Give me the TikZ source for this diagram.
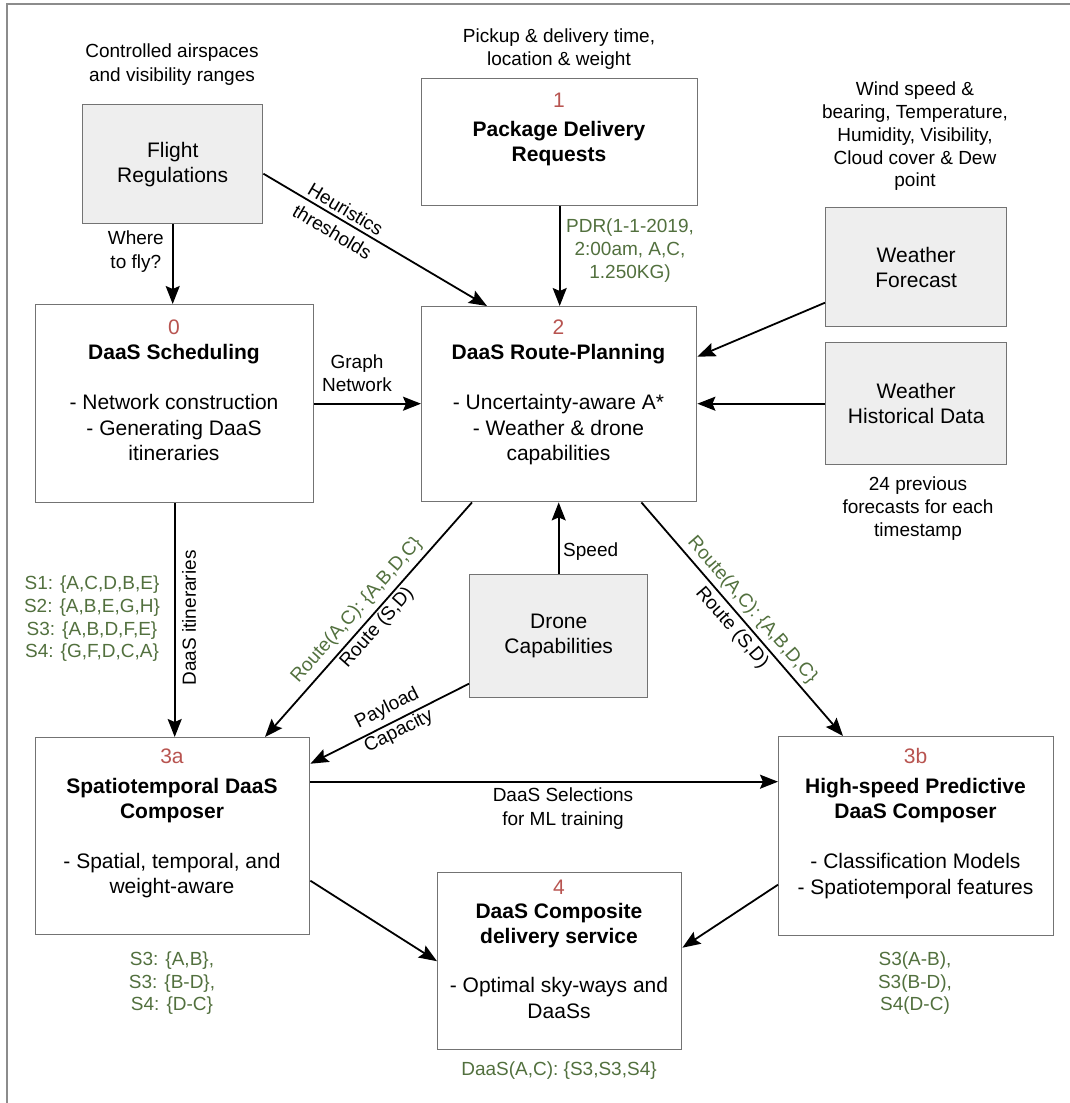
\documentclass[tikz,border=0pt]{standalone}
\usepackage{fontspec}
\setmainfont{Liberation Sans}
\usetikzlibrary{arrows.meta}
\definecolor{numred}{RGB}{184,84,80}
\definecolor{grn}{RGB}{82,112,62}
\definecolor{bordergray}{RGB}{115,115,115}
\definecolor{fillgray}{RGB}{238,238,238}
\definecolor{framegray}{RGB}{140,140,140}
\begin{document}
\begin{tikzpicture}[x=1pt,y=-1pt,
  box/.style={draw=bordergray, line width=1.4pt, fill=white, rectangle, inner sep=0pt, anchor=north west},
  gbox/.style={box, fill=fillgray, align=center, font=\fontsize{21}{25}\selectfont},
  boxtext/.style={anchor=north, align=center, inner sep=0pt, font=\fontsize{21}{25.5}\selectfont},
  lbl/.style={align=center, inner sep=0pt, font=\fontsize{19}{23.5}\selectfont},
  glbl/.style={lbl, text=grn},
  arr/.style={-{Stealth[length=18pt,width=14pt,inset=3pt]}, line width=1.8pt, draw=black}
]
\useasboundingbox (0,0) rectangle (1070,1103);
% outer frame
\draw[framegray, line width=1.6pt] (7,1110) -- (7,4) -- (1080,4);

% grey input boxes
\node[gbox, minimum width=180pt, minimum height=119pt] (fr) at (82,104) {Flight\\Regulations};
\node[gbox, minimum width=181pt, minimum height=119pt] (wf) at (825,207) {Weather\\Forecast};
\node[gbox, minimum width=181pt, minimum height=122pt] (wh) at (825,342) {Weather\\Historical Data};
\node[gbox, minimum width=178pt, minimum height=123pt] (dc) at (469,574) {Drone\\Capabilities};

% white process boxes
\node[box, minimum width=276pt, minimum height=127pt] (pdr) at (421,78) {};
\node[box, minimum width=278pt, minimum height=198pt] (sch) at (35,304) {};
\node[box, minimum width=275pt, minimum height=195pt] (rp) at (421,306) {};
\node[box, minimum width=274pt, minimum height=197pt] (c3a) at (35,737) {};
\node[box, minimum width=275pt, minimum height=199pt] (c3b) at (778,736) {};
\node[box, minimum width=244pt, minimum height=177pt] (c4) at (437,872) {};

% box texts
\node[boxtext] (pdrt) at (559,92.5) {{\color{numred}1}\\[3.5pt]\textbf{Package Delivery}\\\textbf{Requests}};
\node[boxtext] (scht) at (174,319.5) {{\color{numred}0}\\\textbf{DaaS Scheduling}\\[24.5pt]- Network construction\\- Generating DaaS\\itineraries};
\node[boxtext] (rpt) at (558.5,319.5) {{\color{numred}2}\\\textbf{DaaS Route-Planning}\\[24.5pt]- Uncertainty-aware A*\\- Weather \& drone\\capabilities};
\node[boxtext] (c3at) at (172,748.5) {{\color{numred}3a}\\[4.5pt]\textbf{Spatiotemporal DaaS}\\\textbf{Composer}\\[24pt]- Spatial, temporal, and\\weight-aware};
\node[boxtext] (c3bt) at (915.5,748.5) {{\color{numred}3b}\\[4pt]\textbf{High-speed Predictive}\\\textbf{DaaS Composer}\\[24.5pt]- Classification Models\\- Spatiotemporal features};
\node[boxtext] (c4t) at (559,879.5) {{\color{numred}4}\\[-1.5pt]\textbf{DaaS Composite}\\\textbf{delivery service}\\[23.5pt]- Optimal sky-ways and\\DaaSs};

% free texts
\node[lbl, font=\fontsize{19}{24}\selectfont] (ctl) at (172,65) {Controlled airspaces\\and visibility ranges};
\node[lbl, font=\fontsize{19}{23}\selectfont] (pick) at (559,49.5) {Pickup \& delivery time,\\location \& weight};
\node[lbl, font=\fontsize{19}{22.75}\selectfont] (wtxt) at (915,136.5) {Wind speed \&\\bearing, Temperature,\\Humidity, Visibility,\\Cloud cover \& Dew\\point};
\node[lbl, font=\fontsize{19}{23}\selectfont] (prev) at (918,509) {24 previous\\forecasts for each\\timestamp};
\node[glbl, font=\fontsize{19}{22.7}\selectfont] (itin) at (92,619) {S1: \{A,C,D,B,E\}\\S2: \{A,B,E,G,H\}\\S3: \{A,B,D,F,E\}\\S4: \{G,F,D,C,A\}};
\node[glbl, font=\fontsize{19}{22.5}\selectfont] (sela) at (172,983.5) {S3: \{A,B\},\\S3: \{B-D\},\\S4: \{D-C\}};
\node[glbl, font=\fontsize{19}{22.5}\selectfont] (selb) at (915,983.5) {S3(A-B),\\S3(B-D),\\S4(D-C)};
\node[glbl] (daas) at (559,1071) {DaaS(A,C): \{S3,S3,S4\}};

% connectors
\draw[arr] (fr.south) -- (fr.south |- sch.north);
\node[lbl, anchor=east] (where) at (164,251.5) {Where\\to fly?};

\draw[arr] ([yshift=-9.5pt]fr.east) -- ([xshift=66pt]rp.north west);
\node[lbl, rotate=-30.6, font=\fontsize{19}{26}\selectfont] (heur) at (339,220.5) {Heuristics\\thresholds};

\draw[arr] (pdr.south) -- (pdr.south |- rp.north);
\node[glbl, font=\fontsize{19}{23}\selectfont] (pdrl) at (630,251) {PDR(1-1-2019,\\2:00am, A,C,\\1.250KG)};

\draw[arr] ([yshift=-35.5pt]wf.west) -- ([yshift=47.5pt]rp.east);
\draw[arr] (wh.west) -- (wh.west -| rp.east);

\draw[arr] (sch.east) -- (sch.east -| rp.west);
\node[lbl] (graph) at (357,373) {Graph\\Network};

\draw[arr] (dc.north) -- (dc.north |- rp.south);
\node[lbl, anchor=west] (speed) at (563,552) {Speed};

\draw[arr] (sch.south) -- (sch.south |- c3a.north);
\node[lbl, rotate=90] (itl) at (189,618) {DaaS itineraries};

\draw[arr] ([xshift=51pt]rp.south west) -- ([xshift=230pt]c3a.north west);
\node[lbl, rotate=48.5, font=\fontsize{19}{27}\selectfont] (rl) at (367,619) {{\color{grn}Route(A,C): \{A,B,D,C\}}\\Route (S,D)};

\draw[arr] ([xshift=-56pt]rp.south east) -- ([xshift=65pt]c3b.north west);
\node[lbl, rotate=-49, font=\fontsize{19}{27}\selectfont] (rr) at (742,619) {{\color{grn}Route(A,C): \{A,B,D,C\}}\\Route (S,D)};

\draw[arr] ([yshift=-47.5pt]dc.west) -- ([yshift=72.5pt]c3a.east);
\node[lbl, rotate=26.6, font=\fontsize{19}{26}\selectfont] (pay) at (393,720) {Payload\\Capacity};

\draw[arr] ([yshift=54.5pt]c3a.east) -- ([yshift=54.5pt]c3a.east -| c3b.west);
\node[lbl] (sel) at (563,808.5) {DaaS Selections\\for ML training};

\draw[arr] ([yshift=-44.5pt]c3a.east) -- (c4.west);
\draw[arr] ([yshift=-48.5pt]c3b.west) -- ([yshift=13.5pt]c4.east);
\end{tikzpicture}
\end{document}
